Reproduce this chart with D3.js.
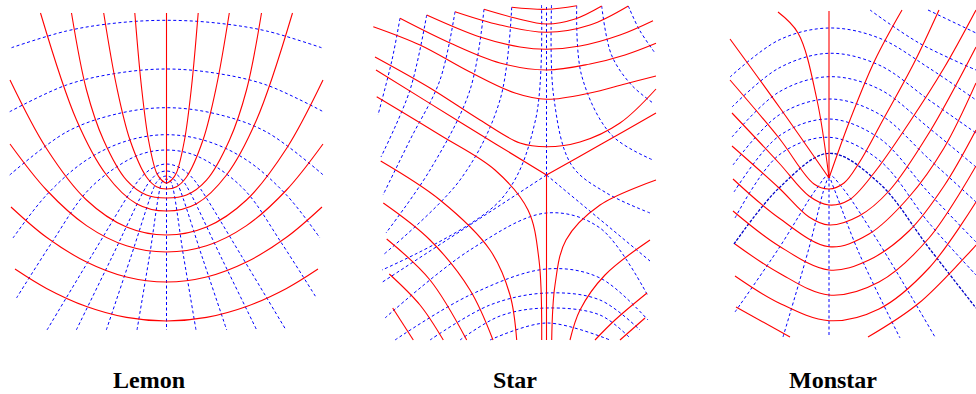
<!DOCTYPE html>
<meta charset="utf-8">
<script src="https://d3js.org/d3.v7.min.js"></script>
<style>
  body { margin: 0; background: #fff; }
  .red { fill: none; stroke: #f00; stroke-width: 1.1px; }
  .blue { fill: none; stroke: #00f; stroke-width: 1px; stroke-dasharray: 3,2.5; }
  .blue.dark { stroke: #0000c8; stroke-width: 1.3px; stroke-dasharray: 3,1.5; }
  .label { font-family: "Liberation Serif", "Times New Roman", serif; font-weight: bold; font-size: 24px; }
</style>
<div id="chart"></div>
<script>
// units: 1 = 10px, origin at the umbilic, y up

// lemon: right halves, mirrored about the vertical axis
var lemonRedHalves = [
  [[0,-0.2],[0.5,0.1],[1.0,0.83],[1.8,4.1],[2.5,9.4],[3.17,16.8]],
  [[0,-0.8],[1.0,-0.57],[2.0,0.4],[3.65,4.1],[5.0,9.5],[6.28,16.8]],
  [[0,-1.7],[2,-1.41],[4,0.08],[6.3,4.1],[8,9.1],[9.5,16.8]],
  [[0,-3.0],[3,-2.27],[6,0.6],[9,6.1],[12.6,16.8]],
  [[0,-5.4],[4,-4.6],[8,-1.9],[12,3.25],[15.65,10.1]],
  [[0,-7.1],[4,-6.48],[8,-4.46],[12,-0.9],[15.65,3.7]],
  [[0,-10.1],[4,-9.6],[8,-8.1],[12,-5.63],[15.55,-2.6]],
  [[0,-14.0],[4,-13.64],[8,-12.55],[12,-10.74],[15.15,-8.8]]
];
var lemonBlueHalves = [
  [[0,16.07],[5,15.8],[10,15.0],[15.5,13.33]],
  [[0,11.2],[5,10.77],[10,9.6],[15.68,6.93]],
  [[0,7.33],[5,6.7],[10,4.9],[15.68,0.6]],
  [[0,4.63],[4,4.0],[8,2.1],[12,-1.4],[15.35,-5.7]],
  [[0,3.1],[2.5,2.7],[5,1.4],[8,-1.1],[11.5,-6.2],[15,-11.7]],
  [[0,1.7],[1.2,1.4],[2.2,0.7],[3.0,-0.2],[7.5,-7.5],[11.95,-14.9]],
  [[0,1.0],[0.8,0.8],[1.4,0.3],[2.0,-0.5],[5.5,-7.7],[9.02,-14.9]],
  [[0,0.5],[0.5,0.35],[0.9,0],[1.2,-0.5],[3.6,-7.7],[6.02,-14.9]],
  [[0,0.2],[0.3,0.05],[0.5,-0.2],[1.7,-7.5],[2.95,-14.9]]
];
var lemonRed = [[[0,0],[0,16.8]]];
var lemonBlue = [[[0,0],[0,-14.9]]];

var starRed = [
  [[0,0],[0,-16.5]],
  [[-17.05,10.5],[-8.5,5.2],[0,0]],
  [[0,0],[5.5,3.1],[10.95,6.2]],
  [[-3.48,16.77],[0,16.57],[3.02,16.93]],
  [[-6.25,16.57],[-3.15,15.7],[0,15.1],[2.85,15.6],[5.52,16.9]],
  [[-9.15,16.33],[-4.65,15.0],[0,14.27],[4.35,15.0],[8.18,16.9]],
  [[-11.98,16.0],[-6.65,13.8],[-2.65,12.8],[0,12.57],[3.35,12.9],[7.35,14.0],[10.65,15.43]],
  [[-14.65,15.67],[-9.65,13.2],[-4.65,11.2],[0,10.5],[4.35,11.1],[7.85,12.0],[10.95,13.17]],
  [[-17.32,14.83],[-12.65,13.0],[-7.65,10.3],[-3.15,8.2],[0,7.57],[4.35,8.2],[7.85,9.1],[10.95,9.9]],
  [[-17.15,11.8],[-11.65,8.7],[-6.65,5.5],[-2.65,3.2],[0,2.83],[3.35,3.3],[7.35,5.2],[10.95,8.6]],
  [[-16.98,7.83],[-10.65,4.0],[-5.15,0.5],[-1.85,-3.5],[-0.75,-8.5],[-0.48,-16.5]],
  [[-16.58,1.4],[-10.65,-2.5],[-5.65,-7.5],[-3.65,-12.0],[-2.98,-16.5]],
  [[-16.32,-2.8],[-11.65,-6.5],[-7.65,-11.5],[-5.35,-16.5]],
  [[-15.98,-6.4],[-11.65,-10.5],[-7.98,-16.5]],
  [[-15.72,-9.9],[-12.65,-13.0],[-10.32,-16.5]],
  [[-15.38,-13.3],[-13.32,-16.5]],
  [[10.95,-0.5],[5.35,-3.0],[1.95,-6.5],[0.85,-11.0],[0.52,-16.5]],
  [[10.35,-6.5],[5.85,-10.0],[3.35,-13.5],[2.35,-16.5]],
  [[10.05,-11.8],[6.85,-14.5],[4.85,-16.5]],
  [[9.85,-14.3],[7.35,-16.5]]
];
var starBlue = [
  [[0,0],[0,17]],
  [[0,0],[-16.55,-10.8]],
  [[0,0],[10.35,-8.6]],
  [[-16.15,-14.3],[-7.65,-7.5],[0,-3.8],[5.35,-5.3],[10.15,-12.1]],
  [[-15.15,-16.5],[-7.65,-12.0],[0,-9.4],[5.35,-10.3],[10.15,-14.5]],
  [[-11.65,-16.5],[-5.65,-13.0],[0,-11.8],[5.35,-12.5],[9.35,-15.5]],
  [[-8.65,-16.5],[-4.65,-14.1],[0,-13.3],[5.35,-14.0],[8.35,-16.3]],
  [[-5.65,-16.5],[0,-14.8],[6.35,-16.5]],
  [[-14.65,15.67],[-15.45,11.5],[-16.85,6.0]],
  [[-11.98,16.0],[-13.65,8.5],[-16.55,1.8]],
  [[-9.15,16.33],[-10.65,9.5],[-13.65,3.5],[-16.35,-2.0]],
  [[-6.25,16.57],[-7.65,8.5],[-11.65,0.5],[-16.05,-5.8]],
  [[-3.48,16.77],[-4.65,7.5],[-8.65,-0.5],[-16.35,-8.0]],
  [[-0.5,17],[-1.1,5.5],[-4.6,-2.5],[-16.45,-9.5]],
  [[0.5,17],[0.7,8],[2.5,1],[6,-1.8],[10.35,-3.8]],
  [[3.02,16.93],[3.5,10],[6.5,4],[10.65,1.5]],
  [[5.52,16.9],[6.5,12],[8.5,9],[10.65,7.2]],
  [[8.18,16.9],[9.3,14.5],[10.85,12.2]]
];

var monstarRed = [
  [[0,0],[0,16.7]],
  [[0,0],[-1.2,7.8],[-3.1,14.5],[-5.1,16.6]],
  [[0,0],[2.1,5.8],[4.6,11.8],[7.3,16.8]],
  [[0,0],[-4.9,7.0],[-9.9,13.9]],
  [[-9.9,9.8],[-5,4],[-1.5,-0.6],[0,-1.1],[1.5,-0.5],[3,1.5],[5.5,6],[8.5,11.5],[11,16.8]],
  [[-9.7,6.5],[-5,1.5],[-2,-1.8],[0,-2.7],[2,-2.2],[4.5,0.5],[8,5.5],[11.5,11],[14.7,16.8]],
  [[-9.7,3.2],[-5,-1.0],[-2,-3.9],[0,-4.7],[3,-3.8],[6,-1.3],[10,4.5],[14.7,13.1]],
  [[-9.6,-0.1],[-5,-4.0],[0,-6.87],[4,-5.6],[8,-1.9],[11.5,3],[14.7,9.5]],
  [[-9.6,-3.3],[-5,-6.8],[0,-9.2],[4,-8.2],[8,-5.3],[11.5,-0.8],[14.7,4.8]],
  [[-9.4,-6.6],[-5,-9.5],[0,-11.7],[5,-10.4],[10,-6.0],[14.7,1.2]],
  [[-9.4,-9.8],[-5,-12.5],[0,-14.27],[5,-13.1],[10,-9.0],[14.7,-2.4]],
  [[-9.3,-12.9],[-3.9,-15.9]],
  [[3.9,-15.9],[9,-12.5],[14.7,-6.7]]
];
var monstarBlue = [
  [[0,0],[0,-15.9]],
  [[-9.9,10.1],[-5,13.8],[0,15.0],[5,14.0],[10,11.0],[14.7,7.8]],
  [[-9.7,7.1],[-5,11.0],[0,12.47],[5,11.3],[10,7.8],[14.7,4.5]],
  [[-9.7,4.1],[-5,8.6],[0,10.13],[5,8.9],[10,5.0],[14.7,1.1]],
  [[-9.6,1.3],[-5,6.3],[0,7.9],[5,6.4],[10,1.9],[14.7,-2.4]],
  [[-9.5,-1.4],[-5,4.2],[0,5.9],[5,4.0],[10,-1.5],[14.7,-6.4]],
  [[-9.4,-4.0],[-5,2.3],[0,4.07],[5,1.8],[10,-4.5],[14.7,-9.7]],
  [[-9.4,-13.4],[-5,-7.0],[-1.2,-1.0],[0,0.3],[1.2,-0.8],[5,-6.5],[10.6,-15.9]],
  [[-4.6,-15.9],[-2,-7],[-0.4,-0.8],[0,0.1],[0.4,-0.8],[3,-7.5],[7.1,-16.0]],
  [[4.1,16.8],[9,13.5],[14.7,10.8]],
  [[9.9,16.8],[14.7,14.5]]
];
// the arc just above the umbilic is drawn darker in the figure
var monstarBlueDark = [
  [[-9.5,-6.6],[-5,-1.0],[0,2.47],[5,-0.5],[10,-7.0],[14.7,-13.0]]
];

var labels = ["Lemon", "Star", "Monstar"];

// layout of the three panels (pixel position of the umbilic)
var layout = [
  {cx: 166.5, cy: 181, lx: 149},
  {cx: 546.5, cy: 175, lx: 515},
  {cx: 829, cy: 178, lx: 833}
];

var svg = d3.select("#chart").append("svg")
  .attr("width", 976)
  .attr("height", 394);

function mirror(half) {
  var left = half.slice(1).map(function(p) { return [-p[0], p[1]]; }).reverse();
  return left.concat(half);
}

var panels = [
  {red: lemonRed.concat(lemonRedHalves.map(mirror)), blue: lemonBlue.concat(lemonBlueHalves.map(mirror)), dark: []},
  {red: starRed, blue: starBlue, dark: []},
  {red: monstarRed, blue: monstarBlue, dark: monstarBlueDark}
];

panels.forEach(function(p, i) {
  var L = layout[i];
  var x = d3.scaleLinear().domain([-16, 16]).range([L.cx - 160, L.cx + 160]);
  var y = d3.scaleLinear().domain([-16, 16]).range([L.cy + 160, L.cy - 160]);
  var line = d3.line()
    .x(function(d) { return x(d[0]); })
    .y(function(d) { return y(d[1]); })
    .curve(d3.curveCatmullRom.alpha(0.5));

  var g = svg.append("g");
  g.selectAll(".blue")
    .data(p.blue)
    .enter().append("path")
    .attr("class", "blue")
    .attr("d", line);
  g.selectAll(".dark")
    .data(p.dark)
    .enter().append("path")
    .attr("class", "blue dark")
    .attr("d", line);
  g.selectAll(".red")
    .data(p.red)
    .enter().append("path")
    .attr("class", "red")
    .attr("d", line);

  svg.append("text")
    .attr("class", "label")
    .attr("x", L.lx)
    .attr("y", 388)
    .attr("text-anchor", "middle")
    .text(labels[i]);
});
</script>
